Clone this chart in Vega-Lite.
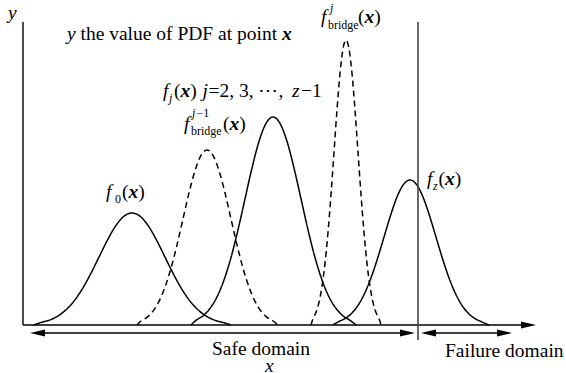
{
  "$schema": "https://vega.github.io/schema/vega-lite/v6.json",
  "width": 566,
  "height": 373,
  "autosize": {"type": "none"},
  "padding": 0,
  "background": "white",
  "view": {"stroke": null},
  "config": {"text": {"font": "Liberation Serif", "fontSize": 19.5, "color": "black", "align": "left", "baseline": "alphabetic"}},
  "datasets": {
    "curves": [
      {"curve": "f0", "type": "PDF", "x": 34, "y": 0}, {"curve": "f0", "type": "PDF", "x": 41.25, "y": 2.6}, {"curve": "f0", "type": "PDF", "x": 49.5, "y": 4.9}, {"curve": "f0", "type": "PDF", "x": 57.75, "y": 8.9}, {"curve": "f0", "type": "PDF", "x": 66, "y": 15.2}, {"curve": "f0", "type": "PDF", "x": 74.25, "y": 24.2}, {"curve": "f0", "type": "PDF", "x": 82.5, "y": 36.4}, {"curve": "f0", "type": "PDF", "x": 90.75, "y": 51.3}, {"curve": "f0", "type": "PDF", "x": 99, "y": 67.9}, {"curve": "f0", "type": "PDF", "x": 107.25, "y": 84.5}, {"curve": "f0", "type": "PDF", "x": 115.5, "y": 98.8}, {"curve": "f0", "type": "PDF", "x": 123.75, "y": 108.6}, {"curve": "f0", "type": "PDF", "x": 132, "y": 112}, {"curve": "f0", "type": "PDF", "x": 140.25, "y": 108.6}, {"curve": "f0", "type": "PDF", "x": 148.5, "y": 98.8}, {"curve": "f0", "type": "PDF", "x": 156.75, "y": 84.5}, {"curve": "f0", "type": "PDF", "x": 165, "y": 67.9}, {"curve": "f0", "type": "PDF", "x": 173.25, "y": 51.3}, {"curve": "f0", "type": "PDF", "x": 181.5, "y": 36.4}, {"curve": "f0", "type": "PDF", "x": 189.75, "y": 24.2}, {"curve": "f0", "type": "PDF", "x": 198, "y": 15.2}, {"curve": "f0", "type": "PDF", "x": 206.25, "y": 8.9}, {"curve": "f0", "type": "PDF", "x": 214.5, "y": 4.9}, {"curve": "f0", "type": "PDF", "x": 222.75, "y": 2.6}, {"curve": "f0", "type": "PDF", "x": 231, "y": 0},
      {"curve": "b1", "type": "bridge", "x": 137, "y": 0}, {"curve": "b1", "type": "bridge", "x": 141, "y": 4.0}, {"curve": "b1", "type": "bridge", "x": 147, "y": 7.7}, {"curve": "b1", "type": "bridge", "x": 153, "y": 13.9}, {"curve": "b1", "type": "bridge", "x": 159, "y": 23.7}, {"curve": "b1", "type": "bridge", "x": 165, "y": 37.9}, {"curve": "b1", "type": "bridge", "x": 171, "y": 56.8}, {"curve": "b1", "type": "bridge", "x": 177, "y": 80.1}, {"curve": "b1", "type": "bridge", "x": 183, "y": 106.1}, {"curve": "b1", "type": "bridge", "x": 189, "y": 132.1}, {"curve": "b1", "type": "bridge", "x": 195, "y": 154.4}, {"curve": "b1", "type": "bridge", "x": 201, "y": 169.6}, {"curve": "b1", "type": "bridge", "x": 207, "y": 175}, {"curve": "b1", "type": "bridge", "x": 213, "y": 169.6}, {"curve": "b1", "type": "bridge", "x": 219, "y": 154.4}, {"curve": "b1", "type": "bridge", "x": 225, "y": 132.1}, {"curve": "b1", "type": "bridge", "x": 231, "y": 106.1}, {"curve": "b1", "type": "bridge", "x": 237, "y": 80.1}, {"curve": "b1", "type": "bridge", "x": 243, "y": 56.8}, {"curve": "b1", "type": "bridge", "x": 249, "y": 37.9}, {"curve": "b1", "type": "bridge", "x": 255, "y": 23.7}, {"curve": "b1", "type": "bridge", "x": 261, "y": 13.9}, {"curve": "b1", "type": "bridge", "x": 267, "y": 7.7}, {"curve": "b1", "type": "bridge", "x": 273, "y": 4.0}, {"curve": "b1", "type": "bridge", "x": 278, "y": 0},
      {"curve": "fj", "type": "PDF", "x": 191, "y": 0}, {"curve": "fj", "type": "PDF", "x": 196, "y": 4.7}, {"curve": "fj", "type": "PDF", "x": 203, "y": 9.1}, {"curve": "fj", "type": "PDF", "x": 210, "y": 16.6}, {"curve": "fj", "type": "PDF", "x": 217, "y": 28.1}, {"curve": "fj", "type": "PDF", "x": 224, "y": 45.0}, {"curve": "fj", "type": "PDF", "x": 231, "y": 67.5}, {"curve": "fj", "type": "PDF", "x": 238, "y": 95.2}, {"curve": "fj", "type": "PDF", "x": 245, "y": 126.2}, {"curve": "fj", "type": "PDF", "x": 252, "y": 157.0}, {"curve": "fj", "type": "PDF", "x": 259, "y": 183.6}, {"curve": "fj", "type": "PDF", "x": 266, "y": 201.6}, {"curve": "fj", "type": "PDF", "x": 273, "y": 208}, {"curve": "fj", "type": "PDF", "x": 280, "y": 201.6}, {"curve": "fj", "type": "PDF", "x": 287, "y": 183.6}, {"curve": "fj", "type": "PDF", "x": 294, "y": 157.0}, {"curve": "fj", "type": "PDF", "x": 301, "y": 126.2}, {"curve": "fj", "type": "PDF", "x": 308, "y": 95.2}, {"curve": "fj", "type": "PDF", "x": 315, "y": 67.5}, {"curve": "fj", "type": "PDF", "x": 322, "y": 45.0}, {"curve": "fj", "type": "PDF", "x": 329, "y": 28.1}, {"curve": "fj", "type": "PDF", "x": 336, "y": 16.6}, {"curve": "fj", "type": "PDF", "x": 343, "y": 9.1}, {"curve": "fj", "type": "PDF", "x": 350, "y": 4.7}, {"curve": "fj", "type": "PDF", "x": 356, "y": 0},
      {"curve": "b2", "type": "bridge", "x": 311, "y": 0}, {"curve": "b2", "type": "bridge", "x": 313, "y": 6.5}, {"curve": "b2", "type": "bridge", "x": 316, "y": 12.5}, {"curve": "b2", "type": "bridge", "x": 319, "y": 22.7}, {"curve": "b2", "type": "bridge", "x": 322, "y": 38.6}, {"curve": "b2", "type": "bridge", "x": 325, "y": 61.6}, {"curve": "b2", "type": "bridge", "x": 328, "y": 92.5}, {"curve": "b2", "type": "bridge", "x": 331, "y": 130.5}, {"curve": "b2", "type": "bridge", "x": 334, "y": 172.9}, {"curve": "b2", "type": "bridge", "x": 337, "y": 215.1}, {"curve": "b2", "type": "bridge", "x": 340, "y": 251.5}, {"curve": "b2", "type": "bridge", "x": 343, "y": 276.2}, {"curve": "b2", "type": "bridge", "x": 346, "y": 285}, {"curve": "b2", "type": "bridge", "x": 349, "y": 276.2}, {"curve": "b2", "type": "bridge", "x": 352, "y": 251.5}, {"curve": "b2", "type": "bridge", "x": 355, "y": 215.1}, {"curve": "b2", "type": "bridge", "x": 358, "y": 172.9}, {"curve": "b2", "type": "bridge", "x": 361, "y": 130.5}, {"curve": "b2", "type": "bridge", "x": 364, "y": 92.5}, {"curve": "b2", "type": "bridge", "x": 367, "y": 61.6}, {"curve": "b2", "type": "bridge", "x": 370, "y": 38.6}, {"curve": "b2", "type": "bridge", "x": 373, "y": 22.7}, {"curve": "b2", "type": "bridge", "x": 376, "y": 12.5}, {"curve": "b2", "type": "bridge", "x": 379, "y": 6.5}, {"curve": "b2", "type": "bridge", "x": 381, "y": 0},
      {"curve": "fz", "type": "PDF", "x": 333, "y": 0}, {"curve": "fz", "type": "PDF", "x": 338.5, "y": 3.3}, {"curve": "fz", "type": "PDF", "x": 345, "y": 6.4}, {"curve": "fz", "type": "PDF", "x": 351.5, "y": 11.5}, {"curve": "fz", "type": "PDF", "x": 358, "y": 19.6}, {"curve": "fz", "type": "PDF", "x": 364.5, "y": 31.4}, {"curve": "fz", "type": "PDF", "x": 371, "y": 47.1}, {"curve": "fz", "type": "PDF", "x": 377.5, "y": 66.4}, {"curve": "fz", "type": "PDF", "x": 384, "y": 87.9}, {"curve": "fz", "type": "PDF", "x": 390.5, "y": 109.4}, {"curve": "fz", "type": "PDF", "x": 397, "y": 128.0}, {"curve": "fz", "type": "PDF", "x": 403.5, "y": 140.5}, {"curve": "fz", "type": "PDF", "x": 410, "y": 145}, {"curve": "fz", "type": "PDF", "x": 416.5, "y": 140.5}, {"curve": "fz", "type": "PDF", "x": 423, "y": 128.0}, {"curve": "fz", "type": "PDF", "x": 429.5, "y": 109.4}, {"curve": "fz", "type": "PDF", "x": 436, "y": 87.9}, {"curve": "fz", "type": "PDF", "x": 442.5, "y": 66.4}, {"curve": "fz", "type": "PDF", "x": 449, "y": 47.1}, {"curve": "fz", "type": "PDF", "x": 455.5, "y": 31.4}, {"curve": "fz", "type": "PDF", "x": 462, "y": 19.6}, {"curve": "fz", "type": "PDF", "x": 468.5, "y": 11.5}, {"curve": "fz", "type": "PDF", "x": 475, "y": 6.4}, {"curve": "fz", "type": "PDF", "x": 481.5, "y": 3.3}, {"curve": "fz", "type": "PDF", "x": 489, "y": 0}
    ],
    "segments": [
      {"name": "x axis", "x": 23, "y": 0, "x2": 528, "y2": 0},
      {"name": "y axis", "x": 23, "y": 0, "x2": 23, "y2": 303},
      {"name": "safe", "x": 36, "y": -8, "x2": 410, "y2": -8},
      {"name": "failure", "x": 426, "y": -8, "x2": 507, "y2": -8}
    ],
    "boundary": [{"x": 418, "y": 303, "x2": 418, "y2": -15}],
    "heads": [
      {"x": 536, "y": 0, "dir": "right"},
      {"x": 30, "y": -8, "dir": "left"},
      {"x": 415, "y": -8, "dir": "right"},
      {"x": 421, "y": -8, "dir": "left"},
      {"x": 512, "y": -8, "dir": "right"}
    ],
    "roman": [
      {"text": "the value of PDF at point", "x": 80.5, "y": 285},
      {"text": "Safe domain", "x": 212, "y": -30},
      {"text": "Failure domain", "x": 445, "y": -32},
      {"text": "(", "x": 122, "y": 127}, {"text": ")", "x": 138.2, "y": 127},
      {"text": "(", "x": 174, "y": 228}, {"text": ")", "x": 190.2, "y": 228},
      {"text": "=2, 3, ⋯,", "x": 208.5, "y": 228},
      {"text": "−1", "x": 301, "y": 228},
      {"text": "(", "x": 223, "y": 195}, {"text": ")", "x": 239.2, "y": 195},
      {"text": "(", "x": 358, "y": 302}, {"text": ")", "x": 374.2, "y": 302},
      {"text": "(", "x": 438.5, "y": 140}, {"text": ")", "x": 454.7, "y": 140}
    ],
    "italic": [
      {"text": "y", "x": 67, "y": 285},
      {"text": "y", "x": 8, "y": 306},
      {"text": "x", "x": 265, "y": -46.5},
      {"text": "f", "x": 106, "y": 127},
      {"text": "f", "x": 163, "y": 228},
      {"text": "j", "x": 202.5, "y": 228},
      {"text": "z", "x": 292, "y": 228},
      {"text": "f", "x": 184, "y": 195},
      {"text": "f", "x": 321, "y": 302},
      {"text": "f", "x": 427, "y": 140}
    ],
    "bolditalic": [
      {"text": "x", "x": 282, "y": 285},
      {"text": "x", "x": 128.5, "y": 127},
      {"text": "x", "x": 180.5, "y": 228},
      {"text": "x", "x": 229.5, "y": 195},
      {"text": "x", "x": 364.5, "y": 302},
      {"text": "x", "x": 445, "y": 140}
    ],
    "small": [
      {"text": "0", "x": 115, "y": 122},
      {"text": "bridge", "x": 191, "y": 190},
      {"text": "−1", "x": 196.5, "y": 208},
      {"text": "bridge", "x": 328, "y": 296}
    ],
    "smallitalic": [
      {"text": "j", "x": 169, "y": 223},
      {"text": "j", "x": 192, "y": 208},
      {"text": "j", "x": 330, "y": 313},
      {"text": "z", "x": 433, "y": 135}
    ]
  },
  "encoding": {
    "x": {"field": "x", "type": "quantitative", "scale": {"domain": [0, 566], "nice": false, "zero": false}, "axis": null},
    "y": {"field": "y", "type": "quantitative", "scale": {"domain": [-48, 325], "nice": false, "zero": false}, "axis": null}
  },
  "layer": [
    {
      "data": {"name": "curves"},
      "mark": {"type": "line", "interpolate": "monotone", "color": "black", "strokeWidth": 1.5},
      "encoding": {
        "detail": {"field": "curve"},
        "strokeDash": {"field": "type", "type": "nominal", "scale": {"domain": ["PDF", "bridge"], "range": [[1, 0], [6, 4]]}, "legend": null}
      }
    },
    {
      "data": {"name": "segments"},
      "mark": {"type": "rule", "color": "black", "strokeWidth": 1.4},
      "encoding": {"x2": {"field": "x2"}, "y2": {"field": "y2"}}
    },
    {
      "data": {"name": "boundary"},
      "mark": {"type": "rule", "color": "#444444", "strokeWidth": 1.6},
      "encoding": {"x2": {"field": "x2"}, "y2": {"field": "y2"}}
    },
    {
      "data": {"name": "heads"},
      "mark": {"type": "point", "filled": true, "size": 900, "color": "black", "opacity": 1, "strokeWidth": 0},
      "encoding": {
        "shape": {"field": "dir", "type": "nominal", "scale": {"domain": ["right", "left"], "range": ["M0,0L-1,-0.23L-1,0.23Z", "M0,0L1,-0.23L1,0.23Z"]}, "legend": null}
      }
    },
    {
      "data": {"name": "roman"},
      "mark": {"type": "text", "font": "Liberation Serif", "fontSize": 19.5},
      "encoding": {"text": {"field": "text"}}
    },
    {
      "data": {"name": "italic"},
      "mark": {"type": "text", "font": "Liberation Serif", "fontSize": 19.5, "fontStyle": "italic"},
      "encoding": {"text": {"field": "text"}}
    },
    {
      "data": {"name": "bolditalic"},
      "mark": {"type": "text", "font": "Liberation Serif", "fontSize": 19.5, "fontStyle": "italic", "fontWeight": "bold"},
      "encoding": {"text": {"field": "text"}}
    },
    {
      "data": {"name": "small"},
      "mark": {"type": "text", "font": "Liberation Serif", "fontSize": 12},
      "encoding": {"text": {"field": "text"}}
    },
    {
      "data": {"name": "smallitalic"},
      "mark": {"type": "text", "font": "Liberation Serif", "fontSize": 12, "fontStyle": "italic"},
      "encoding": {"text": {"field": "text"}}
    }
  ]
}
